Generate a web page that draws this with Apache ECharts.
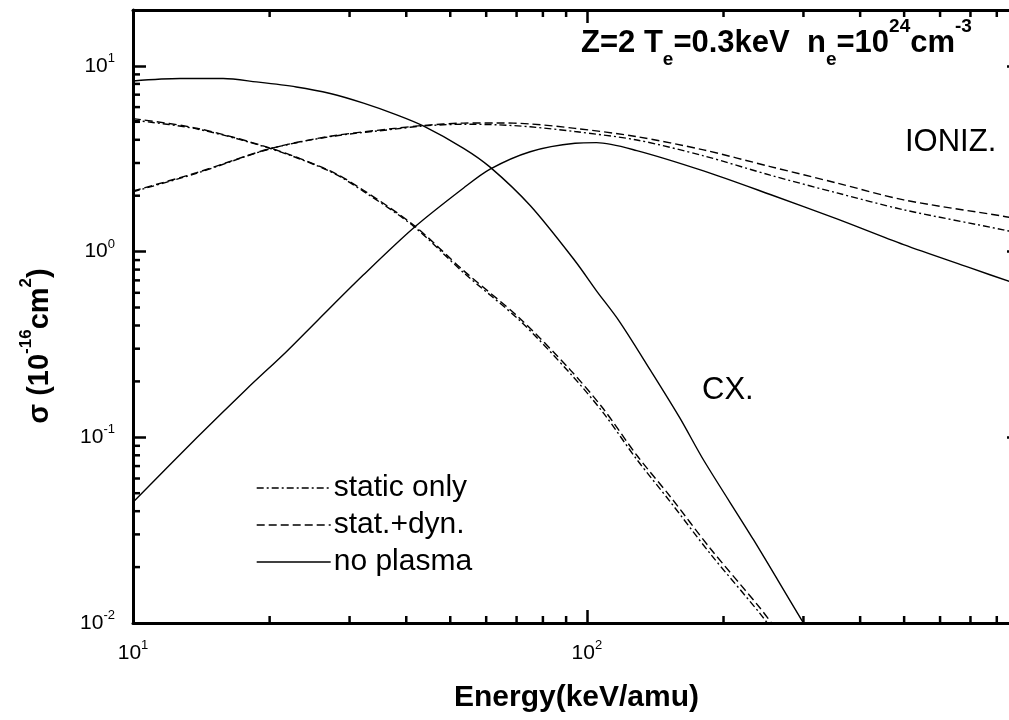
<!DOCTYPE html>
<html>
<head>
<meta charset="utf-8">
<title>Cross sections Z=2</title>
<script src="https://cdn.jsdelivr.net/npm/echarts@6.0.0/dist/echarts.min.js"></script>
<style>
  html, body { margin: 0; padding: 0; background: #ffffff; }
  #chart { width: 1009px; height: 720px; }
</style>
</head>
<body>
<div id="chart"></div>
<script>
// ---- axis ranges (log-log) ----
const X_MIN = 10, X_MAX = 900;
const Y_MIN = 0.01, Y_MAX = 20;

// ---- minor tick positions (2..9 of every decade) ----
const xMinorTicks = [20, 30, 40, 50, 60, 70, 80, 90, 200, 300, 400, 500, 600, 700, 800];
const yMinorTicks = [0.02, 0.03, 0.04, 0.05, 0.06, 0.07, 0.08, 0.09,
                     0.2, 0.3, 0.4, 0.5, 0.6, 0.7, 0.8, 0.9,
                     2, 3, 4, 5, 6, 7, 8, 9];

// ---- charge exchange (CX.) cross sections, 10^-16 cm^2 ----
const cxNoPlasmaE = [10, 12.7, 15.8, 18.7, 22.9, 27.2, 32.2, 38.1, 43.6, 53.5, 61.2, 75, 94.2, 105, 118, 138, 160, 181, 233, 300, 330];
const cxNoPlasma  = [8.3, 8.55, 8.55, 8.2, 7.7, 7.1, 6.3, 5.45, 4.75, 3.6, 2.85, 1.77, 0.89, 0.615, 0.42, 0.23, 0.128, 0.075, 0.028, 0.01, 0.0069];

const cxStaticE = [10, 13.8, 20, 27.2, 32.2, 41.5, 53.5, 71.3, 92, 108.8, 128.8, 152.6, 187, 241, 265];
const cxStatic  = [5.1, 4.58, 3.6, 2.7, 2.11, 1.37, 0.77, 0.423, 0.22, 0.135, 0.076, 0.045, 0.0236, 0.0112, 0.0082];
const cxStatDyn = [5.2, 4.62, 3.62, 2.72, 2.14, 1.39, 0.79, 0.435, 0.23, 0.142, 0.08, 0.048, 0.0252, 0.012, 0.0088];

// ---- ionization (IONIZ.) cross sections, 10^-16 cm^2 ----
const ionNoPlasmaE = [10, 13.8, 17.8, 21.8, 25.6, 32.2, 41.5, 53.5, 61.2, 75, 94.2, 105, 128.8, 180.7, 253.5, 355.6, 498.7, 699.5, 853.5, 900];
const ionNoPlasma  = [0.0447, 0.099, 0.182, 0.29, 0.43, 0.75, 1.34, 2.2, 2.78, 3.45, 3.83, 3.86, 3.5, 2.72, 2.03, 1.5, 1.09, 0.817, 0.69, 0.66];

const ionStaticE = [10, 13.8, 20, 27.2, 38.1, 43.6, 53.5, 63.3, 75, 94.2, 128.8, 180.7, 253.5, 355.6, 498.7, 827, 900];
const ionStatic  = [2.1, 2.64, 3.57, 4.16, 4.58, 4.75, 4.85, 4.82, 4.7, 4.43, 3.99, 3.28, 2.58, 2.07, 1.68, 1.31, 1.25];
const ionStatDyn = [2.12, 2.66, 3.58, 4.18, 4.62, 4.78, 4.92, 4.93, 4.87, 4.61, 4.16, 3.53, 2.87, 2.34, 1.9, 1.55, 1.49];

// ---- legend entries ----
const legendNames = ['static only', 'stat.+dyn.', 'no plasma'];

const FONT = '"Liberation Sans", Arial, Helvetica, sans-serif';
const INK = '#000000';
const DASH_DOT = [7, 3, 2, 3];
const DASHED = [8, 4];

function pairs(xs, ys) { return xs.map((x, i) => [x, ys[i]]); }

function curve(name, xs, ys, dash) {
  return {
    name: name,
    type: 'line',
    data: pairs(xs, ys),
    symbol: 'none',
    smooth: 0.3,
    clip: true,
    lineStyle: { color: INK, width: 1.4, type: dash },
    itemStyle: { color: INK },
    emphasis: { disabled: true }
  };
}

// decade labels "10^n" as rich text
function decadeLabel(v) {
  const l = Math.log10(v);
  const e = Math.round(l);
  if (Math.abs(l - e) > 1e-6) return '';
  return '{b|10}{s|' + e + '}';
}
const labelRich = {
  b: { fontSize: 21, fontFamily: FONT, color: INK, lineHeight: 28 },
  s: { fontSize: 13, fontFamily: FONT, color: INK, lineHeight: 13, verticalAlign: 'top' }
};

const axisLine = { show: true, onZero: false, lineStyle: { color: INK, width: 3 } };
const majorTick = { show: true, inside: true, length: 13, lineStyle: { color: INK, width: 2.5 } };

// short inward ticks on all four sides for 2..9 of each decade
function minorTickSeries(values, horizontal) {
  return {
    type: 'custom',
    silent: true,
    clip: false,
    z: 5,
    data: values.map(v => horizontal ? [v, Y_MIN] : [X_MIN, v]),
    renderItem: function (params, api) {
      const st = { stroke: INK, lineWidth: 2.5 };
      if (horizontal) {
        const v = api.value(0);
        const b = api.coord([v, Y_MIN]);
        const t = api.coord([v, Y_MAX]);
        return { type: 'group', children: [
          { type: 'line', shape: { x1: b[0], y1: b[1], x2: b[0], y2: b[1] - 7 }, style: st },
          { type: 'line', shape: { x1: t[0], y1: t[1], x2: t[0], y2: t[1] + 7 }, style: st }
        ]};
      }
      const v = api.value(1);
      const l = api.coord([X_MIN, v]);
      const r = api.coord([X_MAX, v]);
      return { type: 'group', children: [
        { type: 'line', shape: { x1: l[0], y1: l[1], x2: l[0] + 7, y2: l[1] }, style: st },
        { type: 'line', shape: { x1: r[0], y1: r[1], x2: r[0] - 7, y2: r[1] }, style: st }
      ]};
    }
  };
}

const chart = echarts.init(document.getElementById('chart'), null, { renderer: 'canvas' });

chart.setOption({
  animation: false,
  backgroundColor: '#ffffff',
  grid: { left: 133, right: -11, top: 10, bottom: 97, containLabel: false, outerBoundsMode: 'none' },
  xAxis: [
    {
      type: 'log', min: X_MIN, max: X_MAX, position: 'bottom',
      axisLine: axisLine, axisTick: majorTick,
      axisLabel: { formatter: decadeLabel, rich: labelRich, margin: 16, showMinLabel: true, showMaxLabel: false },
      splitLine: { show: false }, minorTick: { show: false },
      name: 'Energy(keV/amu)', nameLocation: 'middle', nameGap: 60,
      nameTextStyle: { fontSize: 30, fontWeight: 'bold', fontFamily: FONT, color: INK }
    },
    {
      type: 'log', min: X_MIN, max: X_MAX, position: 'top',
      axisLine: axisLine, axisTick: majorTick,
      axisLabel: { show: false }, splitLine: { show: false }
    }
  ],
  yAxis: [
    {
      type: 'log', min: Y_MIN, max: Y_MAX, position: 'left',
      axisLine: axisLine, axisTick: majorTick,
      axisLabel: { formatter: decadeLabel, rich: labelRich, margin: 18, showMaxLabel: false, align: 'right' },
      splitLine: { show: false }
    },
    {
      type: 'log', min: Y_MIN, max: Y_MAX, position: 'right',
      axisLine: axisLine, axisTick: majorTick,
      axisLabel: { show: false }, splitLine: { show: false }
    }
  ],
  legend: {
    data: legendNames,
    orient: 'vertical',
    left: 251, top: 468,
    itemWidth: 74, itemHeight: 14, itemGap: 7,
    selectedMode: false,
    textStyle: { fontSize: 30, fontFamily: FONT, color: INK, lineHeight: 30, padding: [0, 0, 0, -2] },
    itemStyle: { opacity: 0, borderWidth: 0 },
    lineStyle: { width: 1.4 }
  },
  graphic: [
    {
      type: 'text', x: 581, y: 43,
      style: {
        text: 'Z=2 T{sub|e}=0.3keV  n{sub|e}=10{sup|24}cm{sup|-3}',
        fontSize: 31, fontWeight: 'bold', fontFamily: FONT, fill: INK,
        lineHeight: 52, textVerticalAlign: 'middle',
        rich: {
          sub: { fontSize: 19, fontWeight: 'bold', fontFamily: FONT, lineHeight: 14, verticalAlign: 'bottom' },
          sup: { fontSize: 19, fontWeight: 'bold', fontFamily: FONT, lineHeight: 22, verticalAlign: 'top' }
        }
      }
    },
    {
      type: 'text', x: 905, y: 142,
      style: { text: 'IONIZ.', fontSize: 31, fontFamily: FONT, fill: INK, textVerticalAlign: 'middle' }
    },
    {
      type: 'text', x: 702, y: 390,
      style: { text: 'CX.', fontSize: 31, fontFamily: FONT, fill: INK, textVerticalAlign: 'middle' }
    },
    {
      type: 'text', x: 40, y: 346, rotation: Math.PI / 2,
      style: {
        text: 'σ (10{sup|-16}cm{sup|2})',
        fontSize: 29, fontWeight: 'bold', fontFamily: FONT, fill: INK,
        lineHeight: 44, textAlign: 'center', textVerticalAlign: 'middle',
        rich: {
          sup: { fontSize: 17, fontWeight: 'bold', fontFamily: FONT, lineHeight: 18, verticalAlign: 'top' }
        }
      }
    }
  ],
  series: [
    curve('static only', cxStaticE, cxStatic, DASH_DOT),
    curve('stat.+dyn.', cxStaticE, cxStatDyn, DASHED),
    curve('no plasma', cxNoPlasmaE, cxNoPlasma, 'solid'),
    curve('static only', ionStaticE, ionStatic, DASH_DOT),
    curve('stat.+dyn.', ionStaticE, ionStatDyn, DASHED),
    curve('no plasma', ionNoPlasmaE, ionNoPlasma, 'solid'),
    minorTickSeries(xMinorTicks, true),
    minorTickSeries(yMinorTicks, false)
  ]
});
</script>
</body>
</html>
